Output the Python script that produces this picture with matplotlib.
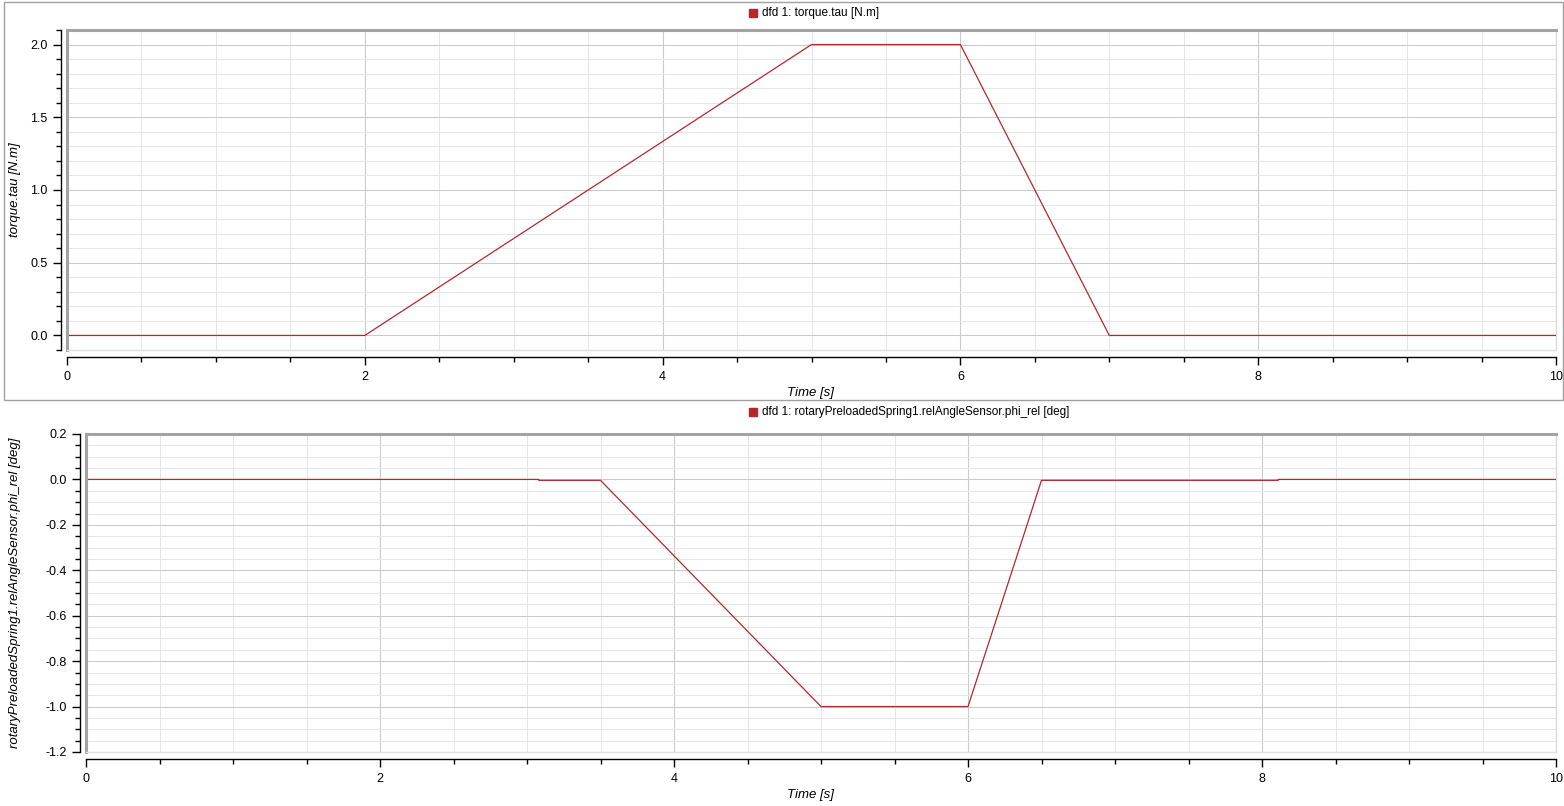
import numpy as np
import matplotlib.pyplot as plt
from matplotlib.lines import Line2D
from matplotlib.patches import Rectangle
from matplotlib.ticker import MultipleLocator

plt.rcParams["font.family"] = ["Liberation Sans", "DejaVu Sans"]

# values
torque_t = [0, 2, 5, 6, 7, 10]
torque_tau = [0, 0, 2, 2, 0, 0]

phi_t = [0, 3.08, 3.08, 3.5, 5, 6, 6.5, 8.11, 8.11, 10]
phi_rel = [0, 0, -0.004, -0.004, -1, -1, -0.004, -0.004, 0, 0]

LINE = "#b3282d"
W, H = 1564, 806


def px(x0, y0, x1, y1):
    # pixel box (top-left origin) -> figure fraction rect
    return [x0 / W, 1 - y1 / H, (x1 - x0) / W, (y1 - y0) / H]


def qwt_axes(fig, rect, ylim, ymaj, ymin, ylab, legend, leg_y, xlab_y, ylab_x, yaxis_gap):
    ax = fig.add_axes(rect)
    ax.set_xlim(0, 10)
    ax.set_ylim(*ylim)
    ax.xaxis.set_major_locator(MultipleLocator(2))
    ax.xaxis.set_minor_locator(MultipleLocator(0.5))
    ax.yaxis.set_major_locator(MultipleLocator(ymaj))
    ax.yaxis.set_minor_locator(MultipleLocator(ymin))
    ax.yaxis.set_major_formatter(lambda v, p: f"{v:.1f}")
    ax.grid(which="minor", color="#e6e6e6", lw=0.75, zorder=0)
    ax.grid(which="major", color="#cbcbcb", lw=0.75, zorder=0)
    ax.set_axisbelow(True)

    for s in ("left", "bottom"):
        ax.spines[s].set_color("black")
        ax.spines[s].set_linewidth(1.0)
    ax.spines["left"].set_position(("outward", yaxis_gap))
    ax.spines["bottom"].set_position(("outward", 5))
    ax.spines["top"].set_color("#a3a3a3")
    ax.spines["top"].set_linewidth(2.2)
    ax.spines["right"].set_color("#dcdcdc")
    ax.spines["right"].set_linewidth(1.0)
    # sunken canvas frame
    ax.plot([0, 0], [0, 1], transform=ax.transAxes, color="#a3a3a3", lw=2.2,
            clip_on=False, zorder=5)
    ax.plot([0, 1], [0, 0], transform=ax.transAxes, color="#e0e0e0", lw=1.0,
            clip_on=False, zorder=5)

    ax.tick_params(which="major", direction="out", length=6, width=1, labelsize=9,
                   colors="black")
    ax.tick_params(which="minor", direction="out", length=3.5, width=1)
    ax.tick_params(axis="y", which="major", pad=4)
    ax.tick_params(axis="x", which="major", pad=4)

    fig.text(810 / W, 1 - xlab_y / H, "Time [s]", style="italic", fontsize=9.5,
             ha="center", va="center")
    fig.text(ylab_x / W, rect[1] + rect[3] / 2, ylab, style="italic", fontsize=9.5,
             rotation=90, ha="center", va="center")
    fig.patches.append(Rectangle((749 / W, 1 - (leg_y + 4) / H), 8 / W, 8 / H,
                                 transform=fig.transFigure, color=LINE, figure=fig))
    fig.text(762 / W, 1 - leg_y / H, legend, fontsize=8.5, ha="left", va="center")
    return ax


fig = plt.figure(figsize=(W / 100, H / 100), dpi=100)
fig.patch.set_facecolor("white")

# outer frame of the upper plot widget
fig.patches.append(Rectangle((4 / W, 1 - 400 / H), 1559 / W, 398 / H, fill=False,
                             edgecolor="#a0a0a0", lw=1.0, transform=fig.transFigure,
                             figure=fig))

ax1 = qwt_axes(fig, px(67, 30, 1556, 350), (-0.1, 2.1), 0.5, 0.1,
               "torque.tau [N.m]", "dfd 1: torque.tau [N.m]", 13, 393, 15, 4)
ax1.plot(torque_t, torque_tau, color=LINE, lw=0.9, zorder=3)

ax2 = qwt_axes(fig, px(86, 434, 1556, 752), (-1.2, 0.2), 0.2, 0.05,
               "rotaryPreloadedSpring1.relAngleSensor.phi_rel [deg]",
               "dfd 1: rotaryPreloadedSpring1.relAngleSensor.phi_rel [deg]", 412, 795, 15, 4)
ax2.plot(phi_t, phi_rel, color=LINE, lw=0.9, zorder=3)

fig.savefig("out.png", dpi=100)
